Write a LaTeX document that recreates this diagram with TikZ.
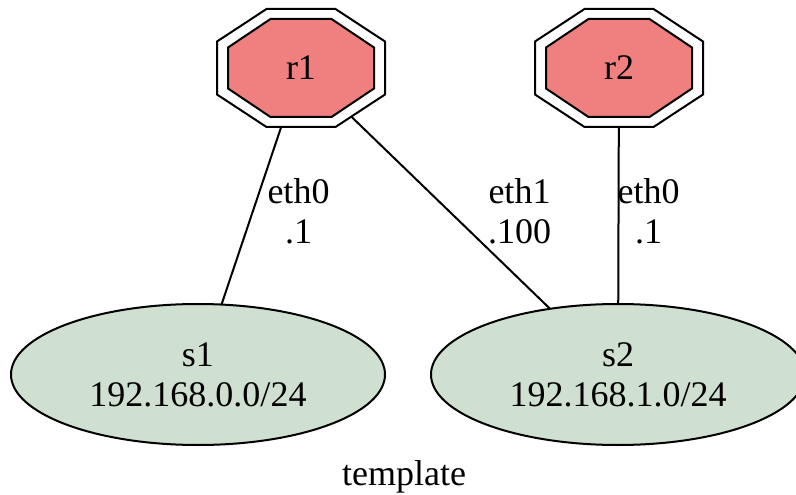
\documentclass[tikz,border=0pt]{standalone}
\usepackage{fontspec}
\setmainfont{Liberation Serif}
\usetikzlibrary{shapes.geometric}
\pgfdeclarelayer{edges}
\pgfdeclarelayer{outlines}
\pgfsetlayers{edges,outlines,main}
\definecolor{routerfill}{HTML}{F08080}
\definecolor{netfill}{RGB}{208,224,208}
\tikzset{
  txt/.style={font=\fontsize{27}{30}\selectfont},
  router/.style={txt, shape=rectangle, inner sep=0pt,
    minimum width=126pt, minimum height=88.5pt},
  octo/.style={line width=1.5pt, line join=miter},
  subnet/.style={txt, ellipse, draw, fill=netfill, line width=1.5pt, inner sep=0pt,
    minimum width=280.5pt, minimum height=105.75pt, align=center},
  link/.style={line width=1.5pt},
  iflabel/.style={txt, align=center, anchor=base, inner sep=0pt},
}
% double octagon outline around a router node
\newcommand\routeroutline[1]{%
  \draw[octo, fill=white, shift={(#1.center)}]
    (-34.5,-59) -- (34.5,-59) -- (84,-26.5) -- (84,26.5)
    -- (34.5,59) -- (-34.5,59) -- (-84,26.5) -- (-84,-26.5) -- cycle;
  \draw[octo, fill=routerfill, shift={(#1.center)}]
    (-30.5,-49) -- (30.5,-49) -- (73,-20.5) -- (73,20.5)
    -- (30.5,49) -- (-30.5,49) -- (-73,20.5) -- (-73,-20.5) -- cycle;}
\begin{document}
\begin{tikzpicture}[x=0.75pt, y=-0.75pt]
  \useasboundingbox (0,0) rectangle (796,495);
  % routers
  \node[router] (r1) at (301,68) {r1};
  \node[router] (r2) at (619,68) {r2};
  \begin{pgfonlayer}{outlines}
    \routeroutline{r1}
    \routeroutline{r2}
  \end{pgfonlayer}
  % subnets
  \node[subnet] (s1) at (198,374.5) {s1\\192.168.0.0/24};
  \node[subnet] (s2) at (618,374.5) {s2\\192.168.1.0/24};
  % links, drawn behind the shapes
  \begin{pgfonlayer}{edges}
    \draw[link] (r1.center) -- (s1.center);
    \draw[link] (r1.center) -- (s2.center);
    \draw[link] (r2.center) -- (s2.center);
  \end{pgfonlayer}
  % interface labels
  \node[iflabel] (l1) at (298.5,244) {eth0\\.1};
  \node[iflabel] (l2) at (519.5,244) {eth1\\.100};
  \node[iflabel] (l3) at (648.5,244) {eth0\\.1};
  % graph title
  \node[txt, anchor=base, inner sep=0pt] (title) at (404,485) {template};
\end{tikzpicture}
\end{document}
